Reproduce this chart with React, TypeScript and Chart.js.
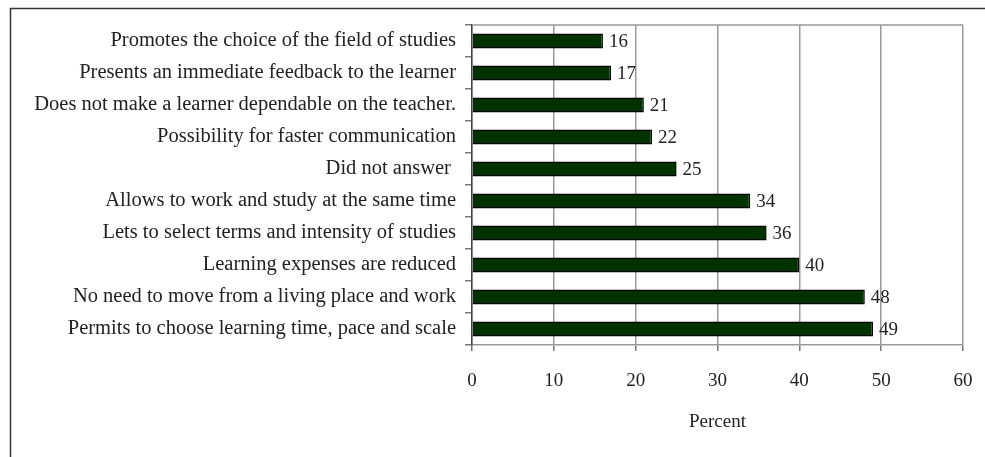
import React, { useEffect, useRef } from "react";
import { Chart, registerables } from "chart.js";

Chart.register(...registerables);

const categories = [
  "Promotes the choice of the field of studies",
  "Presents an immediate feedback to the learner",
  "Does not make a learner dependable on the teacher.",
  "Possibility for faster communication",
  "Did not answer ",
  "Allows to work and study at the same time",
  "Lets to select terms and intensity of studies",
  "Learning expenses are reduced",
  "No need to move from a living place and work",
  "Permits to choose learning time, pace and scale",
];
const percentValues = [16, 17, 21, 22, 25, 34, 36, 40, 48, 49];
const xTicks = [0, 10, 20, 30, 40, 50, 60];
const xTitle = "Percent";

const FONT = "'Liberation Serif', 'Times New Roman', serif";
const TEXT = "#222";

const framePlugin = {
  id: "framePlugin",
  beforeDraw(chart: any) {
    const ctx = chart.ctx;
    ctx.save();
    ctx.fillStyle = "#fff";
    ctx.fillRect(0, 0, chart.width, chart.height);
    ctx.strokeStyle = "#333";
    ctx.lineWidth = 1.5;
    ctx.beginPath();
    ctx.moveTo(10.5, chart.height);
    ctx.lineTo(10.5, 8.5);
    ctx.lineTo(chart.width, 8.5);
    ctx.stroke();
    ctx.restore();
  },
  afterDatasetsDraw(chart: any) {
    const ctx = chart.ctx;
    const a = chart.chartArea;
    ctx.save();
    ctx.strokeStyle = "#999";
    ctx.lineWidth = 1.5;
    ctx.beginPath();
    ctx.moveTo(a.left, a.top);
    ctx.lineTo(a.right, a.top);
    ctx.stroke();
    const meta = chart.getDatasetMeta(0);
    ctx.fillStyle = TEXT;
    ctx.font = `19px ${FONT}`;
    ctx.textAlign = "left";
    ctx.textBaseline = "middle";
    meta.data.forEach((bar: any, i: number) => {
      ctx.fillText(String(percentValues[i]), bar.x + 6, bar.y + 1);
    });
    ctx.restore();
  },
};

export default function App() {
  const ref = useRef<HTMLCanvasElement>(null);
  useEffect(() => {
    if (!ref.current) return;
    const chart = new Chart(ref.current, {
      type: "bar",
      data: {
        labels: categories,
        datasets: [
          {
            data: percentValues,
            backgroundColor: "#003300",
            borderColor: "#000",
            borderWidth: 1.5,
            barPercentage: 0.47,
            categoryPercentage: 1,
          },
        ],
      },
      options: {
        indexAxis: "y",
        animation: false,
        responsive: false,
        maintainAspectRatio: false,
        layout: { padding: { top: 25, right: 22, left: 0, bottom: 0 } },
        plugins: { legend: { display: false }, tooltip: { enabled: false } },
        scales: {
          x: {
            min: 0,
            max: 60,
            afterBuildTicks: (scale: any) => {
              scale.ticks = xTicks.map((v) => ({ value: v }));
            },
            afterFit: (scale: any) => {
              scale.height = 112;
              scale.paddingRight = 0;
            },
            ticks: {
              color: TEXT,
              font: { family: FONT, size: 19 },
              padding: 19,
              maxRotation: 0,
            },
            grid: {
              color: "#999",
              lineWidth: 1.5,
              tickLength: 6,
              tickColor: "#777",
            },
            border: { color: "#999", width: 1.5 },
            title: {
              display: true,
              text: xTitle,
              color: TEXT,
              font: { family: FONT, size: 19 },
              padding: { top: 0, bottom: 24 },
            },
          },
          y: {
            afterFit: (scale: any) => {
              scale.width = 472;
            },
            ticks: {
              color: TEXT,
              font: { family: FONT, size: 20.5 },
              padding: 9,
            },
            grid: {
              drawOnChartArea: false,
              drawTicks: true,
              tickLength: 7,
              tickColor: "#777",
              lineWidth: 1.5,
              offset: true,
            },
            border: { color: "#444", width: 1.5 },
          },
        },
      },
      plugins: [framePlugin],
    });
    return () => chart.destroy();
  }, []);
  return (
    <div style={{ position: "fixed", left: 0, top: 0, width: 985, height: 457 }}>
      <canvas ref={ref} width={985} height={457} style={{ display: "block" }} />
    </div>
  );
}
